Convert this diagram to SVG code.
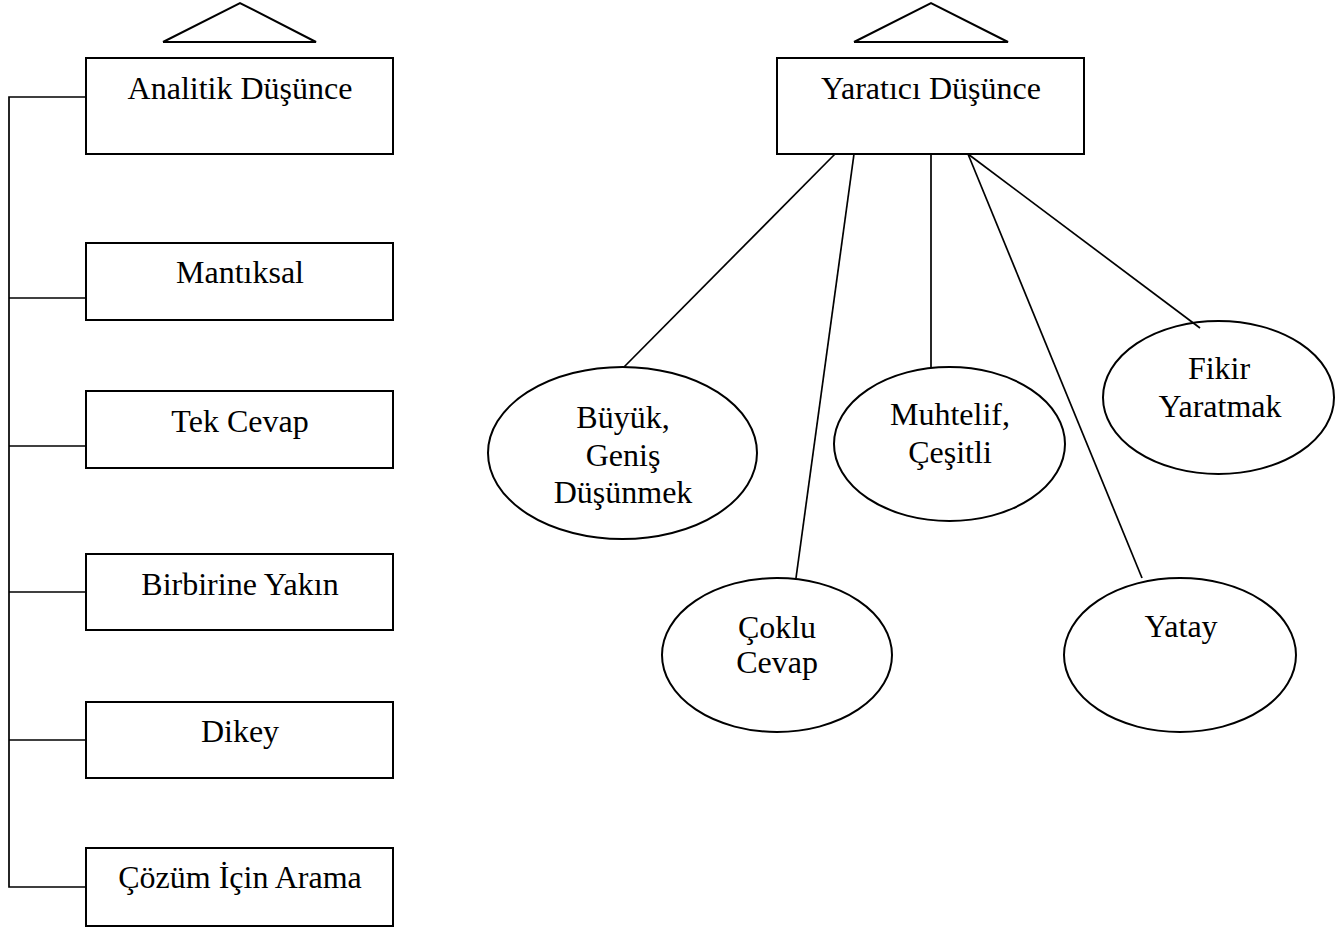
<svg xmlns="http://www.w3.org/2000/svg" width="1336" height="929" viewBox="0 0 1336 929">
  <style>
    .shape { fill: #fff; stroke: #000; stroke-width: 2; }
    .tri { fill: none; stroke: #000; stroke-width: 2; stroke-linejoin: miter; }
    .link { fill: none; stroke: #000; stroke-width: 1.7; }
    text { font-family: "Liberation Serif", "Times New Roman", serif; font-size: 32px; fill: #000; text-anchor: middle; }
  </style>
  <rect width="1336" height="929" fill="#fff"/>

  <!-- roof triangles above the two headings -->
  <polyline class="tri" points="163,42 240,3 316,42 163,42"/>
  <polyline class="tri" points="854,42 931,3 1008,42 854,42"/>

  <!-- left column -->
  <g id="analitik">
    <rect class="shape" x="86" y="58" width="307" height="96"/>
    <text x="240" y="99">Analitik Düşünce</text>
  </g>
  <g id="mantiksal">
    <rect class="shape" x="86" y="243" width="307" height="77"/>
    <text x="240" y="283">Mantıksal</text>
  </g>
  <g id="tek-cevap">
    <rect class="shape" x="86" y="391" width="307" height="77"/>
    <text x="240" y="432">Tek Cevap</text>
  </g>
  <g id="birbirine-yakin">
    <rect class="shape" x="86" y="554" width="307" height="76"/>
    <text x="240" y="595">Birbirine Yakın</text>
  </g>
  <g id="dikey">
    <rect class="shape" x="86" y="702" width="307" height="76"/>
    <text x="240" y="742">Dikey</text>
  </g>
  <g id="cozum">
    <rect class="shape" x="86" y="848" width="307" height="78"/>
    <text x="240" y="888">Çözüm İçin Arama</text>
  </g>

  <!-- right tree -->
  <g id="yaratici">
    <rect class="shape" x="777" y="58" width="307" height="96"/>
    <text x="931" y="99">Yaratıcı Düşünce</text>
  </g>
  <g id="buyuk">
    <ellipse class="shape" cx="622.5" cy="453" rx="134.5" ry="86"/>
    <text x="623" y="428">Büyük,</text>
    <text x="623" y="466">Geniş</text>
    <text x="623" y="503">Düşünmek</text>
  </g>
  <g id="coklu">
    <ellipse class="shape" cx="777" cy="655" rx="115" ry="77"/>
    <text x="777" y="638">Çoklu</text>
    <text x="777" y="673">Cevap</text>
  </g>
  <g id="muhtelif">
    <ellipse class="shape" cx="949.5" cy="444" rx="115.5" ry="77"/>
    <text x="950" y="425">Muhtelif,</text>
    <text x="950" y="463">Çeşitli</text>
  </g>
  <g id="yatay">
    <ellipse class="shape" cx="1180" cy="655" rx="116" ry="77"/>
    <text x="1181" y="637">Yatay</text>
  </g>
  <g id="fikir">
    <ellipse class="shape" cx="1218.5" cy="397.5" rx="115.5" ry="76.5"/>
    <text x="1219" y="379">Fikir</text>
    <text x="1220" y="417">Yaratmak</text>
  </g>

  <!-- connectors -->
  <g id="connectors">
    <!-- left spine -->
    <polyline class="link" points="86,97 9,97 9,887 86,887"/>
    <line class="link" x1="9" y1="298" x2="86" y2="298"/>
    <line class="link" x1="9" y1="446" x2="86" y2="446"/>
    <line class="link" x1="9" y1="592" x2="86" y2="592"/>
    <line class="link" x1="9" y1="740" x2="86" y2="740"/>
    <!-- fan from Yaratıcı Düşünce -->
    <line class="link" x1="835" y1="154" x2="624" y2="367"/>
    <line class="link" x1="854" y1="154" x2="796" y2="578"/>
    <line class="link" x1="931" y1="154" x2="931" y2="367"/>
    <line class="link" x1="968" y1="154" x2="1142" y2="578"/>
    <line class="link" x1="968" y1="154" x2="1200" y2="328"/>
  </g>
</svg>
